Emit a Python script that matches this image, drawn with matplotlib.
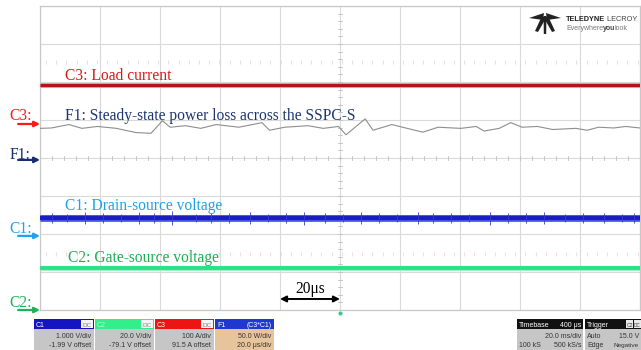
import numpy as np
import matplotlib
matplotlib.use("Agg")
import matplotlib.pyplot as plt
from matplotlib.patches import Rectangle, Polygon

# ---------------- data (screen divisions; time in microseconds) ----------------
f1_time_us = [0, 3.8, 9.6, 14.0, 19.1, 25.5, 31.9, 37.0, 40.8, 43.4, 48.5, 53.6, 58.7,
              66.3, 74.0, 76.5, 81.6, 89.3, 94.4, 99.5, 102.0, 108.4, 111.0, 117.3,
              122.4, 127.6, 132.7, 140.3, 145.4, 148.0, 153.1, 156.9, 160.7, 165.8,
              170.9, 178.6, 182.4, 186.2, 191.3, 195.2, 200]
f1_div = [0.78, 0.79, 0.88, 0.78, 0.83, 0.78, 0.67, 0.65, 0.98, 0.81, 0.85, 0.78, 0.88,
          0.81, 0.93, 0.73, 0.81, 0.85, 0.78, 0.83, 0.61, 1.03, 0.73, 0.88, 0.78, 0.68,
          0.81, 0.78, 0.83, 0.71, 0.78, 0.93, 0.81, 0.83, 0.75, 0.78, 0.73, 0.81, 0.79,
          0.83, 0.79]

trace_time_us = [0, 200]
c3_div = [1.92, 1.92]
c1_div = [-1.58, -1.58]
c2_div = [-2.895, -2.895]

c1_spike_t = [4, 9, 15, 21, 27, 33, 38, 44, 52, 57, 63, 70, 76, 82, 88, 95, 101, 107,
              113, 119, 126, 131, 137, 143, 150, 156, 162, 168, 175, 181, 188, 194, 198]
c1_spike_h = [0.14, 0.11, 0.16, 0.12, 0.10, 0.15, 0.12, 0.18, 0.11, 0.13, 0.12, 0.16,
              0.10, 0.14, 0.17, 0.12, 0.11, 0.15, 0.13, 0.10, 0.16, 0.12, 0.14, 0.11,
              0.17, 0.12, 0.13, 0.15, 0.11, 0.14, 0.12, 0.10, 0.13]

ground_names = ["C3:", "F1:", "C1:", "C2:"]
ground_levels = [0.895, -0.05, -2.05, -4.0]
ground_colors = ["#ff1a1a", "#14306e", "#1ea3ee", "#1db35a"]
ground_label_y = [1.0, -0.03, -1.97, -3.92]

label_texts = ["C3: Load current",
               "F1: Steady-state power loss across the SSPC-S",
               "C1: Drain-source voltage",
               "C2: Gate-source voltage"]
label_colors = ["#d81818", "#1c3470", "#1aa3e8", "#1fae55"]
label_x = [8.3, 8.3, 8.3, 9.3]
label_y = [2.05, 1.0, -1.37, -2.74]

# ---------------- figure ----------------
fig = plt.figure(figsize=(6.41, 3.5), dpi=100)
fig.patch.set_facecolor("white")
ax = fig.add_axes([40 / 641, 40 / 350, 600 / 641, 304 / 350])
ax.set_xlim(0, 200)
ax.set_ylim(-4, 4)
ax.set_xticks(np.arange(0, 201, 20))
ax.set_yticks(np.arange(-4, 5, 1))
ax.tick_params(length=0, labelbottom=False, labelleft=False)
ax.grid(True, color="#dadada", lw=0.8)
ax.set_axisbelow(True)
for s in ax.spines.values():
    s.set_color("#c8c8c8")
    s.set_linewidth(0.9)

SERIF = "Liberation Serif"
SANS = "Liberation Sans"
LFS = 11.2

# minor ticks on centre lines
for yy in np.arange(-4, 4.01, 0.2):
    ax.plot([99.3, 100.7], [yy, yy], color="#c0c0c0", lw=0.6, zorder=1)
for tt in np.arange(0, 200.1, 4):
    ax.plot([tt, tt], [-0.06, 0.06], color="#c0c0c0", lw=0.6, zorder=1)
# faint level marks
marks_t = np.arange(2, 200, 3.4)
ax.plot(marks_t, [2.53] * len(marks_t), ls="none", marker="|", ms=2.5,
        color="#dcdcdc", mew=0.6)
ax.plot(marks_t, [-2.53] * len(marks_t), ls="none", marker="|", ms=2.5,
        color="#f4d4dc", mew=0.6)

# traces
ax.plot(trace_time_us, c3_div, color="#f09a9a", lw=3.6, solid_capstyle="butt", zorder=3)
ax.plot(trace_time_us, c3_div, color="#b5121b", lw=2.2, solid_capstyle="butt", zorder=3)
ax.plot(f1_time_us, f1_div, color="#8e8e8e", lw=0.8, zorder=3)
ax.plot(trace_time_us, c1_div, color="#5566ee", lw=5.0, solid_capstyle="butt", zorder=3)
ax.plot(trace_time_us, c1_div, color="#1c1cc4", lw=3.2, solid_capstyle="butt", zorder=3)
ax.vlines(c1_spike_t, [c1_div[0] - h for h in c1_spike_h],
          [c1_div[0] + h for h in c1_spike_h], color="#3a3ad8", lw=0.6, zorder=3)
ax.plot(trace_time_us, c2_div, color="#a0f0c8", lw=3.8, solid_capstyle="butt", zorder=3)
ax.plot(trace_time_us, c2_div, color="#2ddf86", lw=2.8, solid_capstyle="butt", zorder=3)

# trace labels
for t, c, x, y in zip(label_texts, label_colors, label_x, label_y):
    ax.text(x, y, t, color=c, fontsize=LFS, family=SERIF, va="baseline", ha="left",
            zorder=5)

# ground markers on the left
for n, g, c, ly in zip(ground_names, ground_levels, ground_colors, ground_label_y):
    ax.text(-10.3, ly, n, color=c, fontsize=LFS, family=SERIF, va="baseline",
            ha="left", clip_on=False)
    ax.annotate("", xy=(0, g), xytext=(-7.3, g), annotation_clip=False,
                arrowprops=dict(arrowstyle="-|>", color=c, lw=1.6, mutation_scale=8,
                                shrinkA=0, shrinkB=0))

# 20 us scale marker
ax.annotate("", xy=(80, -3.71), xytext=(100, -3.71),
            arrowprops=dict(arrowstyle="<|-|>", color="black", lw=1.4,
                            mutation_scale=9, shrinkA=0, shrinkB=0))
ax.text(90, -3.55, "20μs", color="black", fontsize=LFS, family=SERIF,
        ha="center", va="baseline")
ax.plot([100], [-4.08], marker="o", ms=2, color="#3cc88a", clip_on=False)

# ---------------- overlay (logo and info boxes, pixel coordinates) ----------------
ov = fig.add_axes([0, 0, 1, 1], zorder=10)
ov.set_xlim(0, 641)
ov.set_ylim(350, 0)
ov.axis("off")
ov.patch.set_visible(False)

# logo
logo_polys = [
    [(529, 18), (544, 13), (543, 20)],
    [(561, 18), (546, 13), (547, 20)],
    [(542, 16), (546, 18), (538, 32), (535, 31)],
    [(543.6, 16), (546.4, 16), (546.2, 34), (543.8, 34)],
    [(544, 18), (548, 16), (555, 31), (552, 32)],
]
for p in logo_polys:
    ov.add_patch(Polygon(p, closed=True, color="#222222", lw=0))

renderer = fig.canvas.get_renderer()


def text_run(x, y, parts, fs):
    """Draw consecutive pieces of text on one baseline (pixel coords)."""
    for s, w, col in parts:
        t = ov.text(x, y, s, fontsize=fs, family=SANS, weight=w, color=col,
                    va="baseline", ha="left")
        bb = t.get_window_extent(renderer=renderer)
        x += bb.width * 641 / fig.bbox.width - 0.6


text_run(566, 21, [("TELEDYNE", "bold", "#222222"), (" LECROY", "normal", "#444444")], 5.3)
text_run(566, 29.5, [("Everywhere", "normal", "#777777"), ("you", "bold", "#444444"),
                     ("look", "normal", "#777777")], 5.0)

FS = 5.0


def chan_box(x0, x1, head_col, title, tag, l1, l2, body_col, title_col="white"):
    ov.add_patch(Rectangle((x0, 319), x1 - x0, 10, color=head_col, lw=0))
    ov.add_patch(Rectangle((x0, 329), x1 - x0, 21, color=body_col, lw=0))
    ov.text(x0 + 2, 327, title, fontsize=FS, family=SANS, color=title_col,
            va="baseline")
    if tag == "DC":
        ov.add_patch(Rectangle((x1 - 13, 320), 12, 8, color="#f4f4f4", lw=0))
        ov.text(x1 - 7, 327, "DC", fontsize=FS - 0.4, family=SANS, color="#888888",
                va="baseline", ha="center")
    else:
        ov.text(x1 - 2, 327, tag, fontsize=FS, family=SANS, color="white",
                va="baseline", ha="right")
    ov.text(x1 - 3, 338, l1, fontsize=FS, family=SANS, color="#333333",
            va="baseline", ha="right")
    ov.text(x1 - 3, 347, l2, fontsize=FS, family=SANS, color="#333333",
            va="baseline", ha="right")


chan_box(34, 94, "#1414c0", "C1", "DC", "1.000 V/div", "-1.99 V offset", "#c6c6c6")
chan_box(95, 154, "#34ee8c", "C2", "DC", "20.0 V/div", "-79.1 V offset", "#c6c6c6",
         title_col="#b8f8d8")
chan_box(155, 214, "#ee1414", "C3", "DC", "100 A/div", "91.5 A offset", "#c6c6c6")
chan_box(215, 274, "#2038d0", "F1", "(C3*C1)", "50.0 W/div", "20.0 μs/div", "#e8c49c")

# timebase box
ov.add_patch(Rectangle((517, 319), 66, 10, color="#111111", lw=0))
ov.add_patch(Rectangle((517, 329), 66, 21, color="#c6c6c6", lw=0))
ov.text(519, 327, "Timebase", fontsize=FS, family=SANS, color="white", va="baseline")
ov.text(581, 327, "400 μs", fontsize=FS, family=SANS, color="white", va="baseline",
        ha="right")
ov.text(581, 338, "20.0 ms/div", fontsize=FS, family=SANS, color="#333333",
        va="baseline", ha="right")
ov.text(519, 347, "100 kS", fontsize=FS, family=SANS, color="#333333", va="baseline")
ov.text(581, 347, "500 kS/s", fontsize=FS, family=SANS, color="#333333",
        va="baseline", ha="right")

# trigger box
ov.add_patch(Rectangle((585, 319), 56, 10, color="#111111", lw=0))
ov.add_patch(Rectangle((585, 329), 56, 21, color="#c6c6c6", lw=0))
ov.text(587, 327, "Trigger", fontsize=FS, family=SANS, color="white", va="baseline")
ov.add_patch(Rectangle((626, 320), 7, 8, color="#e8e8e8", lw=0))
ov.text(629.5, 327, "C2", fontsize=3.6, family=SANS, color="#333333",
        va="baseline", ha="center")
ov.add_patch(Rectangle((634, 320), 7, 8, color="#e8e8e8", lw=0))
ov.text(637.5, 327, "DC", fontsize=3.4, family=SANS, color="#333333",
        va="baseline", ha="center")
ov.text(587, 338, "Auto", fontsize=FS, family=SANS, color="#333333", va="baseline")
ov.text(639, 338, "15.0 V", fontsize=FS, family=SANS, color="#333333", va="baseline",
        ha="right")
ov.text(587, 347, "Edge", fontsize=FS, family=SANS, color="#333333", va="baseline")
ov.text(639, 347, "Negative", fontsize=FS - 0.4, family=SANS, color="#333333",
        va="baseline", ha="right")

fig.savefig("out.png", dpi=100, facecolor="white")
